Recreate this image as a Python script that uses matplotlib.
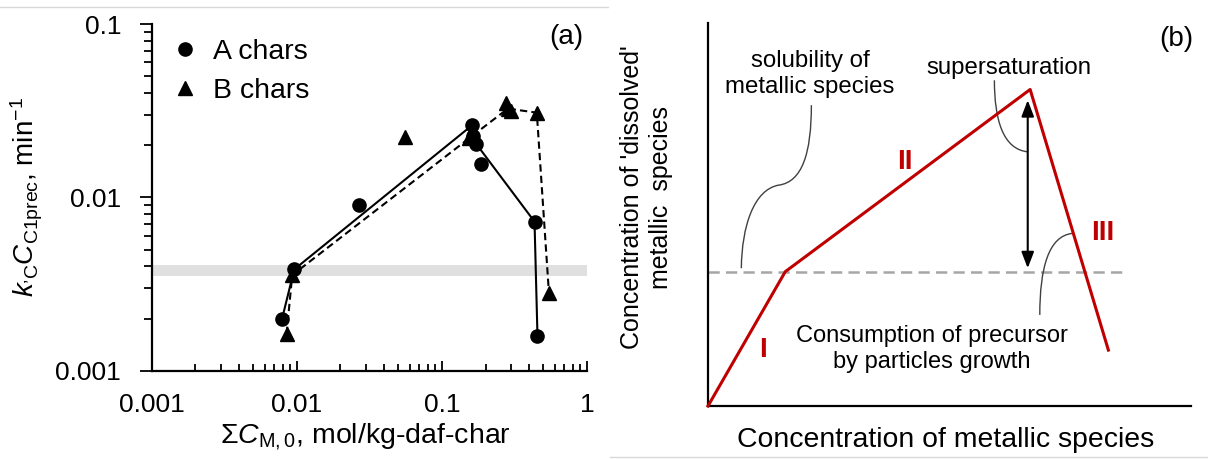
import matplotlib
matplotlib.use("Agg")
import matplotlib.pyplot as plt
from matplotlib.lines import Line2D
from matplotlib.path import Path
from matplotlib.patches import PathPatch
from matplotlib.ticker import LogLocator, FuncFormatter, NullFormatter

plt.rcParams['font.family'] = ['Liberation Sans', 'DejaVu Sans']
plt.rcParams['mathtext.fontset'] = 'custom'
plt.rcParams['mathtext.rm'] = 'Liberation Sans'
plt.rcParams['mathtext.it'] = 'Liberation Sans:italic'
plt.rcParams['mathtext.bf'] = 'Liberation Sans:bold'

# (a) measured rates vs total metal loading
a_x = [0.0079, 0.0096, 0.027, 0.161, 0.163, 0.172, 0.187, 0.435, 0.456]
a_y = [0.00198, 0.00384, 0.00906, 0.026, 0.0225, 0.0204, 0.01555, 0.00724, 0.00158]
a_trend = [0, 1, 3, 5, 7, 8]

b_x = [0.0085, 0.0093, 0.056, 0.155, 0.278, 0.285, 0.30, 0.451, 0.547]
b_y = [0.00163, 0.00356, 0.0223, 0.022, 0.0348, 0.0325, 0.0315, 0.0308, 0.0028]
b_trend = [0, 1, 3, 5, 7, 8]

band_lo, band_hi = 0.00353, 0.00406

# (b) schematic: dissolved concentration vs metal concentration
curve_x = [0, 16.0, 66.7, 82.9]
curve_y = [0, 35.1, 82.7, 14.6]
solubility = 35.1
solubility_end = 86.7
arrow_x = 66.2
arrow_top = 79.9

stage_labels = ['I', 'II', 'III']
stage_pos = [(11.4, 14.6), (40.7, 63.8), (81.7, 45.3)]

# bezier leaders from the notes to the curve
leaders = [
    [(21.4, 78.6), (21.4, 66.0), (19.5, 58.5), (14.6, 57.7),
     (9.5, 56.5), (7.0, 47.0), (6.9, 36.0)],
    [(59.3, 85.1), (59.3, 75.0), (61.0, 67.0), (66.3, 66.4)],
    [(68.7, 23.8), (68.7, 36.0), (70.5, 44.5), (75.5, 45.1)],
]

red = '#c00000'
fig = plt.figure(figsize=(12.08, 4.59), dpi=100)

# ---- panel (a)
ax = fig.add_axes([0.1256, 0.1924, 0.3603, 0.7553])
ax.set_xscale('log')
ax.set_yscale('log')
ax.set_xlim(0.001, 1)
ax.set_ylim(0.001, 0.1)

ax.axhspan(band_lo, band_hi, color='#e0e0e0', lw=0, zorder=0)

ax.plot([a_x[i] for i in a_trend], [a_y[i] for i in a_trend],
        color='black', lw=1.5, zorder=2)
ax.plot([b_x[i] for i in b_trend], [b_y[i] for i in b_trend],
        color='black', lw=1.5, dashes=(3.5, 2), zorder=2)
ax.plot(a_x, a_y, 'o', color='black', ms=9.5, ls='none', zorder=3, label='A chars')
ax.plot(b_x, b_y, '^', color='black', ms=9.5, ls='none', zorder=3, label='B chars')

for s in ['top', 'right']:
    ax.spines[s].set_visible(False)
for s in ['left', 'bottom']:
    ax.spines[s].set_linewidth(1.6)

fmt = FuncFormatter(lambda v, _: f"{v:g}")
ax.xaxis.set_major_locator(LogLocator(base=10, numticks=10))
ax.yaxis.set_major_locator(LogLocator(base=10, numticks=10))
ax.xaxis.set_minor_locator(LogLocator(base=10, subs=range(2, 10), numticks=20))
ax.yaxis.set_minor_locator(LogLocator(base=10, subs=range(2, 10), numticks=20))
ax.xaxis.set_major_formatter(fmt)
ax.yaxis.set_major_formatter(fmt)
ax.xaxis.set_minor_formatter(NullFormatter())
ax.yaxis.set_minor_formatter(NullFormatter())
ax.tick_params(axis='x', which='major', direction='in', length=7, width=1.3, pad=16, labelsize=19)
ax.tick_params(axis='x', which='minor', direction='in', length=5, width=1.3)
ax.tick_params(axis='y', which='major', direction='out', length=9, width=1.3, pad=13, labelsize=19)
ax.tick_params(axis='y', which='minor', direction='out', length=6, width=1.3)

ax.set_xlabel(r"$\Sigma C_{\mathrm{M,0}}$, mol/kg-daf-char", fontsize=20.5, va='center')
ax.xaxis.set_label_coords(0.49, -0.19)
ax.set_ylabel(r"$k_{\mathrm{’C}}C_{\mathrm{C1prec}}$, min$^{-1}$", fontsize=20, va='center')
ax.yaxis.set_label_coords(-0.2865, 0.501)

ax.legend(loc='upper left', bbox_to_anchor=(0.046, 0.956), frameon=False,
          fontsize=20.5, handlelength=0.9, handletextpad=0.55, borderpad=0,
          borderaxespad=0, labelspacing=0.45)
ax.text(0.952, 0.962, '(a)', transform=ax.transAxes, fontsize=20,
        ha='center', va='center')

# ---- panel (b)
bx = fig.add_axes([0.5861, 0.1155, 0.3998, 0.8338])
bx.set_xlim(0, 100)
bx.set_ylim(0, 100)
bx.set_xticks([])
bx.set_yticks([])
for s in ['top', 'right']:
    bx.spines[s].set_visible(False)
for s in ['left', 'bottom']:
    bx.spines[s].set_linewidth(1.6)

bx.plot([0, solubility_end], [solubility, solubility], color='#a6a6a6',
        lw=1.8, dashes=(4.5, 2.5), zorder=1)
bx.plot(curve_x, curve_y, color=red, lw=2.2, zorder=3, clip_on=False)

bx.annotate('', xy=(arrow_x, solubility + 0.9), xytext=(arrow_x, arrow_top),
            arrowprops=dict(arrowstyle='<|-|>,head_length=0.65,head_width=0.25',
                            color='black', lw=1.5, mutation_scale=15,
                            shrinkA=0, shrinkB=0), zorder=4)

for pts in leaders:
    codes = [Path.MOVETO] + [Path.CURVE4] * (len(pts) - 1)
    bx.add_patch(PathPatch(Path(pts, codes), facecolor='none',
                           edgecolor='#404040', lw=1.0, zorder=2))

for lab, (px, py) in zip(stage_labels, stage_pos):
    bx.text(px, py, lab, color=red, fontsize=20, fontweight='bold',
            ha='center', va='center')

bx.text(21.1, 86.7, 'solubility of\nmetallic species', fontsize=17.3,
        ha='center', va='center', linespacing=1.2)
bx.text(62.3, 88.2, 'supersaturation', fontsize=17.3, ha='center', va='center')
bx.text(46.3, 14.9, 'Consumption of precursor\nby particles growth', fontsize=17,
        ha='center', va='center', linespacing=1.2)
bx.text(96.9, 96.0, '(b)', fontsize=20, ha='center', va='center')

bx.text(-0.127, 0.546, "Concentration of 'dissolved'\nmetallic  species",
        transform=bx.transAxes, rotation=90, fontsize=18, ha='center',
        va='center', linespacing=1.24)
bx.set_xlabel('Concentration of metallic species', fontsize=20.4, va='center')
bx.xaxis.set_label_coords(0.493, -0.089)

# thin frame edges of the two panels
fig.add_artist(Line2D([0, 608 / 1208], [1 - 7 / 459] * 2, color='#d9d9d9', lw=1))
fig.add_artist(Line2D([610 / 1208, 1], [1 - 457 / 459] * 2, color='#d9d9d9', lw=1))

fig.savefig('out.png', dpi=100)
